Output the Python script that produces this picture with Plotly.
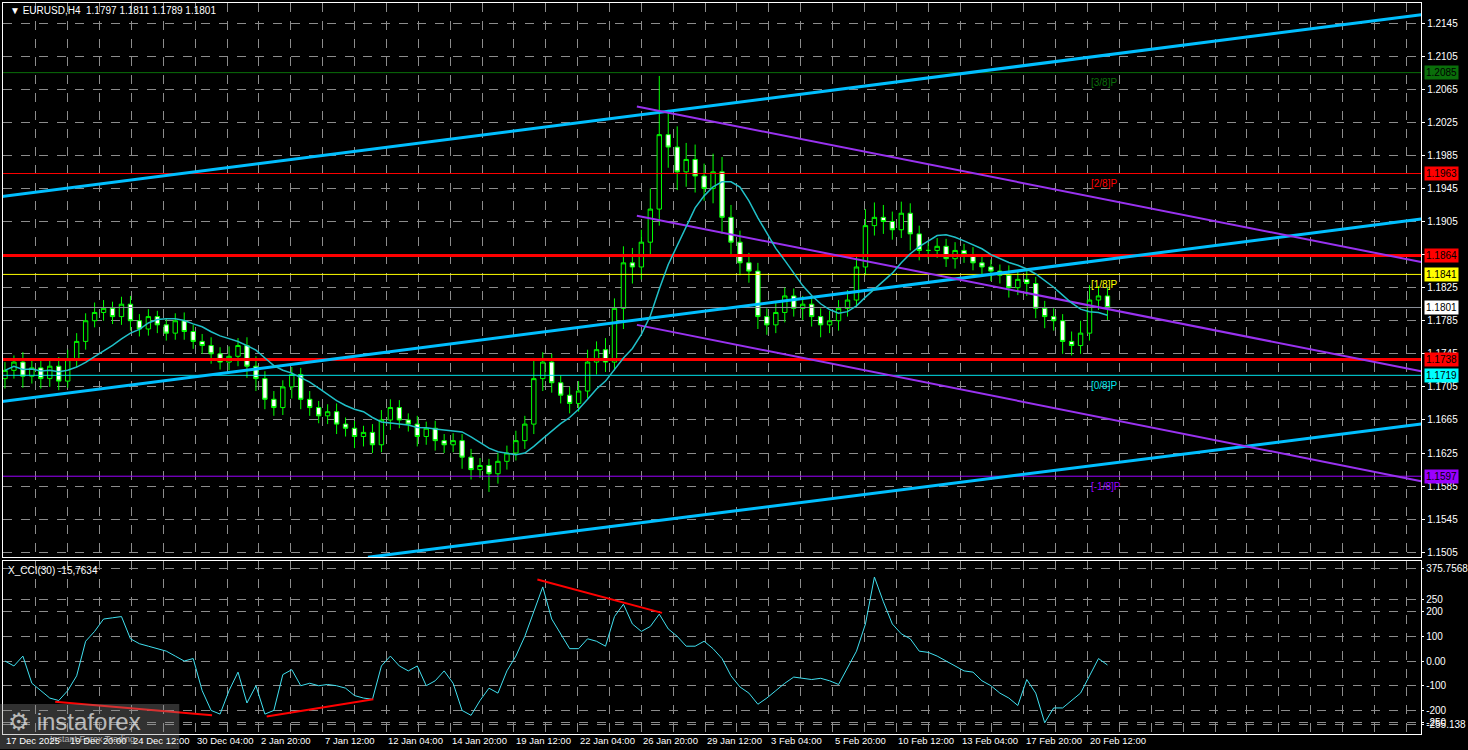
import plotly.graph_objects as go
import pandas as pd

W, H = 1468, 750

# closes of each (2 x H4) candle
closes = [
    1.1725, 1.1735, 1.1718, 1.1728, 1.1715, 1.1730, 1.1712, 1.1738, 1.1760,
    1.1785, 1.1795, 1.1800, 1.1790, 1.1805, 1.1785, 1.1775, 1.1790, 1.1780,
    1.1770, 1.1785, 1.1772, 1.1760, 1.1755, 1.1745, 1.1735, 1.1742, 1.1755,
    1.1730, 1.1715, 1.1690, 1.1680, 1.1705, 1.1720, 1.1690, 1.1680,
    1.1670, 1.1675, 1.1660, 1.1655, 1.1645, 1.1650, 1.1635, 1.1665, 1.1680,
    1.1665, 1.1660, 1.1645, 1.1655, 1.1640, 1.1635, 1.1640, 1.1620, 1.1605,
    1.1610, 1.1600, 1.1615, 1.1625, 1.1640, 1.1660, 1.1715, 1.1735,
    1.1710, 1.1695, 1.1685, 1.1700, 1.1735, 1.1750, 1.1735, 1.1800,
    1.1855, 1.1850, 1.1880, 1.1920, 1.2010, 1.1995, 1.1965, 1.1980,
    1.1960, 1.1945, 1.1965, 1.1910, 1.1880, 1.1855, 1.1845, 1.1790,
    1.1780, 1.1795, 1.1815, 1.1800, 1.1805, 1.1790, 1.1780, 1.1785,
    1.1800, 1.1810, 1.1850, 1.1900, 1.1910, 1.1905, 1.1895, 1.1915,
    1.1890, 1.1870, 1.1870, 1.1875, 1.1860, 1.1870, 1.1865, 1.1855,
    1.1850, 1.1845, 1.1840, 1.1825, 1.1835, 1.1830, 1.1800, 1.1790,
    1.1785, 1.1760, 1.1755, 1.1770, 1.1810, 1.1815, 1.1801,
]
first_open = 1.1715
# wick sizes in pips above / below the body
wick_up = [
    10, 8, 12, 9, 10, 8, 11, 12, 10, 9, 12, 10, 8, 9, 10, 8, 9, 7,
    8, 9, 10, 8, 9, 10, 8, 12, 9, 10, 12, 9, 10, 8, 9, 8, 10,
    8, 9, 10, 8, 9, 8, 10, 12, 10, 9, 8, 10, 8, 9, 8, 9, 8, 10,
    9, 8, 10, 9, 12, 10, 25, 12, 10, 9, 10, 12, 15, 10, 14, 12,
    20, 18, 15, 25, 71, 30, 25, 20, 18, 15, 22, 18, 15, 14, 12, 10,
    10, 12, 10, 9, 10, 9, 10, 12, 10, 12, 15, 20, 18, 15, 12, 14,
    12, 10, 9, 10, 9, 10, 8, 9, 10, 9, 8, 12, 9, 10, 8, 9,
    10, 8, 12, 15, 18, 12, 10,
]
wick_dn = [
    12, 10, 14, 9, 12, 10, 11, 8, 9, 10, 8, 10, 9, 10, 12, 9, 8, 10,
    9, 8, 10, 9, 10, 12, 9, 10, 12, 14, 15, 12, 10, 9, 14, 12, 10,
    9, 10, 12, 10, 14, 12, 10, 9, 12, 10, 9, 12, 10, 12, 10, 9, 14, 12,
    10, 22, 12, 10, 9, 10, 12, 15, 12, 10, 12, 10, 9, 15, 12, 10,
    25, 20, 15, 18, 20, 25, 22, 18, 20, 15, 18, 20, 18, 15, 14, 15,
    12, 10, 12, 10, 14, 12, 15, 10, 12, 10, 9, 10, 12, 15, 12, 10,
    20, 12, 10, 9, 10, 12, 10, 9, 10, 12, 10, 12, 9, 15, 12, 14,
    12, 15, 12, 10, 9, 12, 15,
]

# CCI(30), one value per candle
cci = [
    0, -20, 20, -90, -120, -150, -160, -120, -60, 80, 120, 170, 175, 180,
    90, 70, 60, 50, 40, 20, 0, 10, -120, -200, -215, -120, -45, -170,
    -100, -215, -200, -55, -35, -100, -90, -100, -95, -100, -110, -140,
    -150, -155, -20, 20, -20, -40, -20, -100, -80, -40, -90, -200, -220,
    -160, -110, -130, -40, 20, 100, 200, 300, 170, 110, 50, 50, 90, 80,
    60, 180, 230, 150, 120, 140, 190, 130, 100, 60, 60, 80, 50, 10, -60,
    -105, -130, -175, -150, -120, -90, -65, -70, -75, -70, -80, -95, -30,
    40, 150, 340, 240, 150, 110, 90, 40, 35, 20, 0, -20, -40, -45, -80,
    -100, -130, -150, -180, -75, -130, -250, -190, -190, -160, -130, -60,
    10, -16,
]

time_labels = [
    "17 Dec 2025", "19 Dec 20:00", "24 Dec 12:00", "30 Dec 04:00",
    "2 Jan 20:00", "7 Jan 12:00", "12 Jan 04:00", "14 Jan 20:00",
    "19 Jan 12:00", "22 Jan 04:00", "26 Jan 20:00", "29 Jan 12:00",
    "3 Feb 04:00", "5 Feb 20:00", "10 Feb 12:00", "13 Feb 04:00",
    "17 Feb 20:00", "20 Feb 12:00",
]

# horizontal levels: price, colour, width, tag bg
levels = [
    (1.2085, "#0a6e0a", 1, "#0a6e0a"),
    (1.1963, "#ff0000", 1, "#ff0000"),
    (1.1864, "#ff0000", 3, "#ff0000"),
    (1.1841, "#ffff00", 1, "#ffff00"),
    (1.1801, "#8a8f99", 1, "#ffffff"),
    (1.1738, "#ff0000", 3, "#ff0000"),
    (1.1719, "#00e5ee", 1, "#00ffff"),
    (1.1597, "#9b00ff", 1, "#9b00ff"),
]
murrey = [("[3/8]P", 1.2085, "#0a6e0a"), ("[2/8]P", 1.1963, "#ff0000"),
          ("[1/8]P", 1.1841, "#ffff00"), ("[0/8]P", 1.1719, "#00e5ee"),
          ("[-1/8]P", 1.1597, "#9b00ff")]

# trend channels: (x0, p0, x1, p1) in candle index
cyan_lines = [(-0.5, 1.1935, 158, 1.2155), (-0.5, 1.1687, 158, 1.1908),
              (40.5, 1.1499, 158, 1.1660)]
purple_lines = [(70.5, 1.2044, 158, 1.1856), (70.5, 1.1912, 158, 1.1724),
                (70.5, 1.1780, 158, 1.1591)]
cci_div = [(5.6, -165, 23.1, -220), (29.2, -225, 41.1, -155), (59.4, 330, 73.3, 195)]

n = len(closes)
idx = list(range(n))
opens = [first_open] + closes[:-1]
highs = [max(o, c) + u / 10000 for o, c, u in zip(opens, closes, wick_up)]
lows = [min(o, c) - d / 10000 for o, c, d in zip(opens, closes, wick_dn)]
ma = pd.Series(closes).rolling(10, min_periods=1).mean()

x_lo, x_hi = -0.22, 158.0
px_per = 1424 / (x_hi - x_lo)
p_top, p_bot = 1.21692, 1.14990

fig = go.Figure()

for p, col, w, _ in levels:
    fig.add_trace(go.Scatter(x=[x_lo, x_hi], y=[p, p], mode="lines",
                             line=dict(color=col, width=w), hoverinfo="skip",
                             showlegend=False))
for x0, p0, x1, p1 in cyan_lines:
    fig.add_trace(go.Scatter(x=[x0, x1], y=[p0, p1], mode="lines",
                             line=dict(color="#00bfff", width=3),
                             showlegend=False))
for x0, p0, x1, p1 in purple_lines:
    fig.add_trace(go.Scatter(x=[x0, x1], y=[p0, p1], mode="lines",
                             line=dict(color="#9932f0", width=2),
                             showlegend=False))

fig.add_trace(go.Scatter(x=idx, y=ma, mode="lines",
                         line=dict(color="#20c0c8", width=1.5), showlegend=False))

fig.add_trace(go.Candlestick(
    x=idx, open=opens, high=highs, low=lows, close=closes,
    increasing=dict(line=dict(color="#00ff00", width=1), fillcolor="#000000"),
    decreasing=dict(line=dict(color="#00ff00", width=1), fillcolor="#ffffff"),
    whiskerwidth=0, showlegend=False,
))

# CCI panel
fig.add_trace(go.Scatter(x=idx, y=cci, mode="lines", xaxis="x2", yaxis="y2",
                         line=dict(color="#40e0f0", width=1), showlegend=False))
for x0, v0, x1, v1 in cci_div:
    fig.add_trace(go.Scatter(x=[x0, x1], y=[v0, v1], mode="lines",
                             xaxis="x2", yaxis="y2",
                             line=dict(color="#ff0000", width=2),
                             showlegend=False))

grid = dict(showgrid=True, gridcolor="#8c8c8c", griddash="dash", gridwidth=1)
# vertical grid every 8 H4 bars (32 px)
vgrid = [x_lo + (4 - 3 + 32 * k) / px_per for k in range(45)]
xcommon = dict(range=[x_lo, x_hi], tickvals=vgrid, showticklabels=False,
               ticks="", zeroline=False, showline=True, linecolor="#ffffff",
               mirror=True, rangeslider=dict(visible=False), **grid)
price_ticks = [round(1.2145 - 0.004 * k, 4) for k in range(17)]

fig.update_layout(
    width=W, height=H, paper_bgcolor="#000000", plot_bgcolor="#000000",
    margin=dict(l=0, r=0, t=0, b=0),
    font=dict(family="Liberation Sans, Arial", size=10, color="#ffffff"),
    xaxis=dict(domain=[3 / W, 1427 / W], anchor="y", **xcommon),
    xaxis2=dict(domain=[3 / W, 1427 / W], anchor="y2", matches="x", **xcommon),
    yaxis=dict(domain=[1 - 558 / H, 1 - 3 / H], range=[p_bot, p_top],
               side="right", tickvals=price_ticks,
               ticktext=[f"{t:.4f}" for t in price_ticks],
               ticks="outside", ticklen=3, tickcolor="#ffffff",
               zeroline=False, showline=True, linecolor="#ffffff", mirror=True,
               **grid),
    yaxis2=dict(domain=[1 - 735 / H, 1 - 562 / H], range=[-295.6, 404],
                side="right", tickvals=[375.7568, 250, 200, 100, 0, -100, -200, -250, -255.138],
                ticktext=["375.7568", "250", "200", "100", "0.00", "-100", "-200", "-250", "-255.138"],
                ticks="outside", ticklen=2, tickcolor="#ffffff",
                zeroline=False, showline=True, linecolor="#ffffff", mirror=True,
                **grid),
)

ann = []
for p, col, w, bg in levels:
    ann.append(dict(x=1430 / W, y=p, xref="paper", yref="y", text=f"{p:.4f}",
                    showarrow=False, xanchor="left", bgcolor=bg,
                    font=dict(color="#000000", size=10), borderpad=1))
for t, p, col in murrey:
    ann.append(dict(x=1093 / W, y=p, xref="paper", yref="y", text=t, yshift=-10,
                    showarrow=False, xanchor="left", font=dict(color=col, size=10)))
for k, t in enumerate(time_labels):
    ann.append(dict(x=(4 + 64 * k) / W, y=1 - 741 / H, xref="paper", yref="paper",
                    text=t, showarrow=False, xanchor="left", yanchor="middle",
                    font=dict(size=9.5, color="#ffffff")))
ann.append(dict(x=8 / W, y=1 - 11 / H, xref="paper", yref="paper",
                text="▼ EURUSD,H4  1.1797 1.1811 1.1789 1.1801", showarrow=False,
                xanchor="left", yanchor="middle", font=dict(size=10)))
ann.append(dict(x=6 / W, y=1 - 571 / H, xref="paper", yref="paper",
                text="X_CCI(30) -15,7634", showarrow=False,
                xanchor="left", yanchor="middle", font=dict(size=10)))
# watermark
ann.append(dict(x=6 / W, y=1 - 722 / H, xref="paper", yref="paper",
                text="⚙ instaforex", showarrow=False, xanchor="left",
                yanchor="middle", font=dict(size=24, color="rgba(230,230,230,0.75)")))
ann.append(dict(x=48 / W, y=1 - 740 / H, xref="paper", yref="paper",
                text="Instant Forex Trading", showarrow=False, xanchor="left",
                yanchor="middle", font=dict(size=9, color="rgba(230,230,230,0.7)")))
fig.update_layout(annotations=ann)
fig.add_shape(type="rect", xref="paper", yref="paper", x0=0, x1=180 / W,
              y0=0, y1=1 - 705 / H, fillcolor="rgba(140,140,140,0.35)",
              line=dict(width=0), layer="above")

fig.write_html("out.html", config={"displayModeBar": False},
               post_script="document.body.style.margin='0';")
